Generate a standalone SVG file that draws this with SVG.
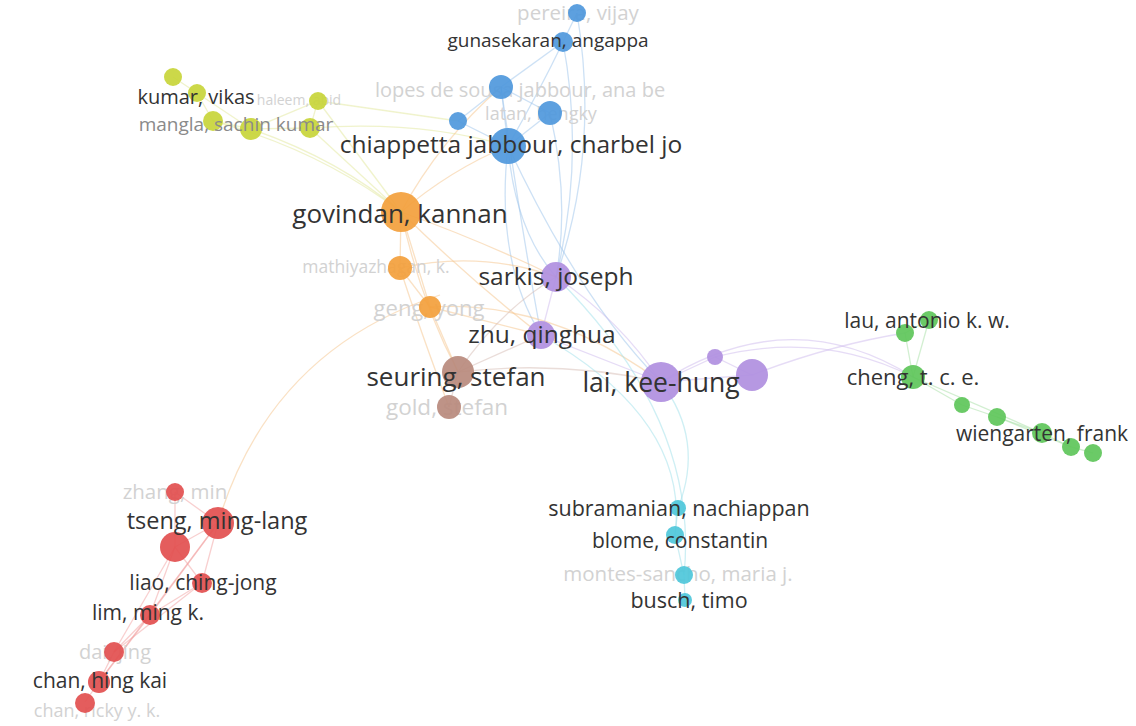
<svg xmlns="http://www.w3.org/2000/svg" width="1136" height="726" viewBox="0 0 1136 726">
<style>
text{font-family:"Open Sans","Noto Sans","Liberation Sans",sans-serif;text-anchor:middle}
.d{fill:#333}
.m{fill:#8a8a8a}
.f{fill:#d2d2d2}
.S{font-size:21px}
.e{fill:none;stroke-width:1.3;stroke-opacity:0.5}
.eb{stroke:#9cc4ec}.ey{stroke:#e2e79a}.eo{stroke:#f6c48a}.ep{stroke:#cdb9ee}.eg{stroke:#a6dfa3}.ec{stroke:#9edfea}.er{stroke:#f2a0a0}.en{stroke:#d6bcb3}
.nb{fill:#4f98dc}.ny{fill:#c8d53a}.no{fill:#f3a03c}.nbr{fill:#b88a7d}.np{fill:#b08fe0}.ng{fill:#5ec55a}.nc{fill:#4ec7da}.nr{fill:#e24f4f}
circle{fill-opacity:0.92}
</style>
<rect width="1136" height="726" fill="#ffffff"/>
<g id="connectors">
<path class="e eb" d="M577,13 L563,42"/>
<path class="e eb" d="M563,42 L501,87"/>
<path class="e eb" d="M501,87 L458,121"/>
<path class="e eb" d="M501,87 L550,113"/>
<path class="e eb" d="M501,87 L508,146"/>
<path class="e eb" d="M550,113 L508,146"/>
<path class="e eb" d="M458,121 L508,146"/>
<path class="e eb" d="M563,42 Q540,90 508,146"/>
<path class="e eb" d="M577,13 Q600,150 556,277"/>
<path class="e eb" d="M563,42 Q585,160 556,277"/>
<path class="e eb" d="M508,146 Q515,230 556,277"/>
<path class="e eb" d="M550,113 Q570,200 556,277"/>
<path class="e eb" d="M508,146 Q495,260 541,335"/>
<path class="e eb" d="M501,87 Q520,220 541,335"/>
<path class="e eb" d="M508,146 Q580,300 661,382"/>
<path class="e ey" d="M173,77 L197,93 L213,121 L251,129 L310,128 L318,101 L251,129"/>
<path class="e ey" d="M197,93 L251,129"/>
<path class="e ey" d="M251,129 Q340,160 401,212"/>
<path class="e ey" d="M310,128 L401,212"/>
<path class="e ey" d="M318,101 L401,212"/>
<path class="e ey" d="M213,121 Q320,150 401,212"/>
<path class="e ey" d="M310,128 Q420,120 508,146"/>
<path class="e ey" d="M318,101 L458,121"/>
<path class="e eo" d="M401,212 L400,268 L430,307 L401,212"/>
<path class="e eo" d="M401,212 Q450,170 508,146"/>
<path class="e eo" d="M401,212 Q440,140 501,87"/>
<path class="e eo" d="M401,212 Q480,240 556,277"/>
<path class="e eo" d="M401,212 Q470,280 541,335"/>
<path class="e eo" d="M401,212 Q420,300 458,372"/>
<path class="e eo" d="M400,268 Q480,250 556,277"/>
<path class="e eo" d="M430,307 L541,335"/>
<path class="e eo" d="M430,307 Q550,300 661,382"/>
<path class="e eo" d="M400,268 Q420,330 449,407"/>
<path class="e eo" d="M430,307 L458,372"/>
<path class="e eo" d="M440,295 Q270,350 218,523"/>
<path class="e en" d="M458,372 L449,407"/>
<path class="e en" d="M458,372 L541,335"/>
<path class="e en" d="M458,372 Q500,310 556,277"/>
<path class="e en" d="M458,372 Q560,360 661,382"/>
<path class="e ep" d="M556,277 L541,335 L661,382"/>
<path class="e ep" d="M556,277 Q620,320 661,382"/>
<path class="e ep" d="M661,382 L715,357 L752,375 L661,382"/>
<path class="e ep" d="M661,382 Q790,300 913,377"/>
<path class="e ep" d="M715,357 Q820,330 913,377"/>
<path class="e ep" d="M752,375 Q830,345 905,333"/>
<path class="e eg" d="M913,377 L905,333 L929,320"/>
<path class="e eg" d="M913,377 L929,320"/>
<path class="e eg" d="M913,377 L962,405 L997,417 L1042,433 L1071,447 L1093,453"/>
<path class="e eg" d="M913,377 L1042,433"/>
<path class="e eg" d="M997,417 L1071,447"/>
<path class="e ec" d="M661,382 Q705,440 678,508"/>
<path class="e ec" d="M541,335 Q690,420 675,535"/>
<path class="e ec" d="M678,508 L675,535 L684,575 L685,600"/>
<path class="e ec" d="M556,277 Q700,420 684,575"/>
<path class="e er" d="M175,492 L218,523 L175,547 L175,492"/>
<path class="e er" d="M218,523 L202,583 L175,547 L150,615 L202,583"/>
<path class="e er" d="M218,523 L150,615"/>
<path class="e er" d="M150,615 L114,652 L99,682 L85,702"/>
<path class="e er" d="M175,547 L114,652"/>
<path class="e er" d="M150,615 L99,682"/>
<path class="e er" d="M218,523 L99,682"/>
<path class="e er" d="M202,583 L114,652"/>
</g>
<g id="faint-labels">
<text class="f" style="font-size:20.5px" x="578" y="20">pereira, vijay</text>
<text class="f" style="font-size:20px" x="520" y="97">lopes de sousa jabbour, ana be</text>
<text class="f" style="font-size:18px" x="541" y="120">latan, hengky</text>
<text class="f" style="font-size:14px" x="299" y="105">haleem, abid</text>
<text class="f" style="font-size:17.5px" x="376" y="273">mathiyazhagan, k.</text>
<text class="f" style="font-size:22px" x="429" y="316">geng, yong</text>
<text class="f" style="font-size:22.5px" x="447" y="415">gold, stefan</text>
<text class="f" style="font-size:20.5px" x="678" y="581">montes-sancho, maria j.</text>
<text class="f" style="font-size:20.5px" x="175" y="499">zhang, min</text>
<text class="f" style="font-size:20px" x="115" y="659">dai, jing</text>
<text class="f" style="font-size:18px" x="97" y="717">chan, ricky y. k.</text>
</g>
<g id="node-pereira"><circle class="nb" cx="577" cy="13" r="9"/></g>
<g id="node-gunasekaran"><circle class="nb" cx="563" cy="42" r="10"/></g>
<g id="node-lopes"><circle class="nb" cx="501" cy="87" r="12"/></g>
<g id="node-latan"><circle class="nb" cx="550" cy="113" r="12"/></g>
<g id="node-blue5"><circle class="nb" cx="458" cy="121" r="9"/></g>
<g id="node-chiappetta"><circle class="nb" cx="508" cy="146" r="18"/></g>
<g id="node-y1"><circle class="ny" cx="173" cy="77" r="9"/></g>
<g id="node-kumar"><circle class="ny" cx="197" cy="93" r="9"/></g>
<g id="node-mangla"><circle class="ny" cx="213" cy="121" r="10"/></g>
<g id="node-y4"><circle class="ny" cx="251" cy="129" r="11"/></g>
<g id="node-haleem"><circle class="ny" cx="318" cy="101" r="9"/></g>
<g id="node-y6"><circle class="ny" cx="310" cy="128" r="10"/></g>
<g id="node-govindan"><circle class="no" cx="401" cy="212" r="20"/></g>
<g id="node-mathiyazhagan"><circle class="no" cx="400" cy="268" r="12"/></g>
<g id="node-geng"><circle class="no" cx="430" cy="307" r="11"/></g>
<g id="node-seuring"><circle class="nbr" cx="458" cy="372" r="16"/></g>
<g id="node-gold"><circle class="nbr" cx="449" cy="407" r="12"/></g>
<g id="node-sarkis"><circle class="np" cx="556" cy="277" r="15"/></g>
<g id="node-zhu"><circle class="np" cx="541" cy="335" r="14"/></g>
<g id="node-lai"><circle class="np" cx="661" cy="382" r="20"/></g>
<g id="node-p4"><circle class="np" cx="715" cy="357" r="8"/></g>
<g id="node-p5"><circle class="np" cx="752" cy="375" r="16"/></g>
<g id="node-lau1"><circle class="ng" cx="905" cy="333" r="9"/></g>
<g id="node-lau"><circle class="ng" cx="929" cy="320" r="9"/></g>
<g id="node-cheng"><circle class="ng" cx="913" cy="377" r="12"/></g>
<g id="node-g4"><circle class="ng" cx="962" cy="405" r="8"/></g>
<g id="node-g5"><circle class="ng" cx="997" cy="417" r="9"/></g>
<g id="node-wiengarten"><circle class="ng" cx="1042" cy="433" r="10"/></g>
<g id="node-g7"><circle class="ng" cx="1071" cy="447" r="9"/></g>
<g id="node-g8"><circle class="ng" cx="1093" cy="453" r="9"/></g>
<g id="node-subramanian"><circle class="nc" cx="678" cy="508" r="8"/></g>
<g id="node-blome"><circle class="nc" cx="675" cy="535" r="9"/></g>
<g id="node-montes"><circle class="nc" cx="684" cy="575" r="9"/></g>
<g id="node-busch"><circle class="nc" cx="685" cy="600" r="7"/></g>
<g id="node-zhang"><circle class="nr" cx="175" cy="492" r="9"/></g>
<g id="node-tseng"><circle class="nr" cx="218" cy="523" r="16"/></g>
<g id="node-r3"><circle class="nr" cx="175" cy="547" r="15"/></g>
<g id="node-liao"><circle class="nr" cx="202" cy="583" r="10"/></g>
<g id="node-lim"><circle class="nr" cx="150" cy="615" r="10"/></g>
<g id="node-dai"><circle class="nr" cx="114" cy="652" r="10"/></g>
<g id="node-chanhk"><circle class="nr" cx="99" cy="682" r="11"/></g>
<g id="node-chanrk"><circle class="nr" cx="85" cy="703" r="10"/></g>
<g id="labels">
<text class="d" style="font-size:19px" x="548" y="47">gunasekaran, angappa</text>
<text class="d" style="font-size:24.5px" x="511" y="153">chiappetta jabbour, charbel jo</text>
<text class="d" style="font-size:20px" x="196" y="104">kumar, vikas</text>
<text class="m" style="font-size:19px" x="236" y="131">mangla, sachin kumar</text>
<text class="d" style="font-size:26px" x="400" y="223">govindan, kannan</text>
<text class="d" style="font-size:24.5px" x="556" y="285">sarkis, joseph</text>
<text class="d" style="font-size:24.5px" x="542" y="343">zhu, qinghua</text>
<text class="d" style="font-size:26px" x="456" y="386">seuring, stefan</text>
<text class="d" style="font-size:26.5px" x="661" y="392">lai, kee-hung</text>
<text class="d S" x="927" y="328">lau, antonio k. w.</text>
<text class="d" style="font-size:22px" x="913" y="385">cheng, t. c. e.</text>
<text class="d S" x="1042" y="441">wiengarten, frank</text>
<text class="d" style="font-size:21.5px" x="679" y="516">subramanian, nachiappan</text>
<text class="d S" x="680" y="548">blome, constantin</text>
<text class="d" style="font-size:21.5px" x="689" y="608">busch, timo</text>
<text class="d" style="font-size:23.5px" x="217" y="529">tseng, ming-lang</text>
<text class="d S" x="203" y="590">liao, ching-jong</text>
<text class="d S" x="148" y="620">lim, ming k.</text>
<text class="d S" x="100" y="688">chan, hing kai</text>
</g>
</svg>
